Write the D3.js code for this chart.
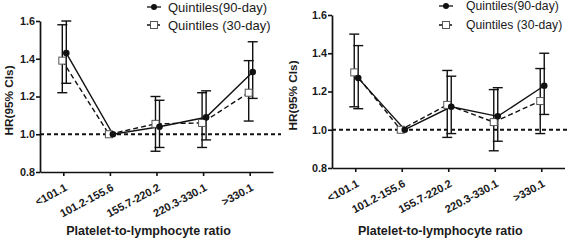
<!DOCTYPE html>
<html>
<head>
<meta charset="utf-8">
<script src="https://cdn.jsdelivr.net/npm/d3@7"></script>
<style>
  body { margin: 0; background: #fff; }
  text { font-family: "Liberation Sans", Arial, sans-serif; fill: #1a1a1a; }
</style>
</head>
<body>
<svg id="chart" width="567" height="241"></svg>
<script>
// categories and ticks
var categories = ["<101.1", "101.2-155.6", "155.7-220.2", "220.3-330.1", ">330.1"];
var yTicks = [0.8, 1.0, 1.2, 1.4, 1.6];
var seriesNames = ["Quintiles(90-day)", "Quintiles (30-day)"];

// left panel
var hr90Left = [1.43, 1.0, 1.04, 1.09, 1.33];
var lo90Left = [1.27, null, 0.93, 0.97, 1.19];
var hi90Left = [1.6, null, 1.18, 1.23, 1.49];
var hr30Left = [1.39, 1.0, 1.055, 1.06, 1.22];
var lo30Left = [1.22, null, 0.91, 0.93, 1.07];
var hi30Left = [1.58, null, 1.2, 1.22, 1.39];

// right panel
var hr90Right = [1.27, 1.0, 1.12, 1.07, 1.23];
var lo90Right = [1.11, null, 0.98, 0.94, 1.08];
var hi90Right = [1.44, null, 1.28, 1.22, 1.4];
var hr30Right = [1.3, 1.0, 1.13, 1.04, 1.15];
var lo30Right = [1.12, null, 0.96, 0.89, 0.98];
var hi30Right = [1.5, null, 1.31, 1.21, 1.32];

var svg = d3.select("#chart");
var font = "'Liberation Sans', Arial, sans-serif";

function panel(p) {
  var x = d3.scalePoint().domain(categories).range([p.left, p.right]).padding(0.5);
  var y = d3.scaleLinear().domain([0.8, 1.6]).range([p.bottom, p.top]);

  var g = svg.append("g");

  // reference line at HR = 1
  g.append("line")
    .attr("x1", p.left).attr("x2", p.refEnd)
    .attr("y1", y(1)).attr("y2", y(1))
    .attr("stroke", "#111").attr("stroke-width", 2)
    .attr("stroke-dasharray", "4,3");

  // axes
  var yAxis = g.append("g")
    .attr("transform", `translate(${p.left},0)`)
    .call(d3.axisLeft(y).tickValues(yTicks).tickFormat(d3.format(".1f")).tickSize(4).tickSizeOuter(0));
  var xAxis = g.append("g")
    .attr("transform", `translate(0,${p.bottom})`)
    .call(d3.axisBottom(x).tickSize(4).tickSizeOuter(0));

  [yAxis, xAxis].forEach(function (a) {
    a.select(".domain").attr("stroke", "#111").attr("stroke-width", 1.7);
    a.selectAll(".tick line").attr("stroke", "#111").attr("stroke-width", 1.6);
  });
  yAxis.selectAll(".tick text")
    .attr("x", -5)
    .style("font-size", "10.8px").style("font-weight", "bold")
    .style("font-family", font).attr("fill", "#1a1a1a");
  xAxis.selectAll(".tick text")
    .attr("text-anchor", "end")
    .attr("dy", null).attr("y", null)
    .attr("transform", "translate(4,18) rotate(-28)")
    .style("font-size", "11px").style("font-weight", "bold")
    .style("font-family", font).attr("fill", "#1a1a1a");

  // axis titles
  g.append("text")
    .attr("x", (p.left + p.right) / 2 - 8).attr("y", 235)
    .attr("text-anchor", "middle")
    .style("font-size", "12.5px").style("font-weight", "bold")
    .text("Platelet-to-lymphocyte ratio");
  g.append("text")
    .attr("transform", `translate(${p.titleX},${(p.top + p.bottom) / 2 + 4}) rotate(-90)`)
    .attr("text-anchor", "middle")
    .style("font-size", "11.8px").style("font-weight", "bold")
    .text("HR(95% CIs)");

  var series = [
    { hr: p.hr30, lo: p.lo30, hi: p.hi30, dx: -1, dash: "5,3", square: true },
    { hr: p.hr90, lo: p.lo90, hi: p.hi90, dx: 3, dash: null, square: false }
  ];

  series.forEach(function (s) {
    var pts = categories.map((c, i) => ({ c: c, hr: s.hr[i], lo: s.lo[i], hi: s.hi[i] }));
    var px = (d) => x(d.c) + s.dx;

    // error bars
    var eb = g.append("g").selectAll("g")
      .data(pts.filter((d) => d.lo != null))
      .join("g")
      .attr("stroke", "#111").attr("stroke-width", 1.4);
    eb.append("line")
      .attr("x1", px).attr("x2", px)
      .attr("y1", (d) => y(d.lo)).attr("y2", (d) => y(d.hi));
    eb.append("line")
      .attr("x1", (d) => px(d) - 5).attr("x2", (d) => px(d) + 5)
      .attr("y1", (d) => y(d.hi)).attr("y2", (d) => y(d.hi));
    eb.append("line")
      .attr("x1", (d) => px(d) - 5).attr("x2", (d) => px(d) + 5)
      .attr("y1", (d) => y(d.lo)).attr("y2", (d) => y(d.lo));

    // connecting line
    g.append("path")
      .datum(pts)
      .attr("fill", "none")
      .attr("stroke", "#111").attr("stroke-width", 1.4)
      .attr("stroke-dasharray", s.dash)
      .attr("d", d3.line().x(px).y((d) => y(d.hr)));
  });

  series.forEach(function (s) {
    var pts = categories.map((c, i) => ({ c: c, hr: s.hr[i] }));
    if (s.square) {
      g.append("g").selectAll("rect")
        .data(pts)
        .join("rect")
        .attr("x", (d) => x(d.c) + s.dx - 3.5).attr("y", (d) => y(d.hr) - 3.5)
        .attr("width", 7).attr("height", 7)
        .attr("fill", "#fff").attr("stroke", "#555").attr("stroke-width", 1);
    } else {
      g.append("g").selectAll("circle")
        .data(pts)
        .join("circle")
        .attr("cx", (d) => x(d.c) + s.dx).attr("cy", (d) => y(d.hr))
        .attr("r", 3.3).attr("fill", "#111");
    }
  });

  // legend
  var lg = g.append("g").attr("transform", `translate(${p.legX},0)`);
  seriesNames.forEach(function (name, i) {
    var ly = i === 0 ? p.legY0 : p.legY1;
    lg.append("line")
      .attr("x1", 0).attr("x2", 14).attr("y1", ly).attr("y2", ly)
      .attr("stroke", "#111").attr("stroke-width", 1.3)
      .attr("stroke-dasharray", i === 0 ? null : "3,2");
    if (i === 0) {
      lg.append("circle").attr("cx", 7).attr("cy", ly).attr("r", 3).attr("fill", "#111");
    } else {
      lg.append("rect").attr("x", 3.5).attr("y", ly - 3.5).attr("width", 7).attr("height", 7)
        .attr("fill", "#fff").attr("stroke", "#555");
    }
    lg.append("text")
      .attr("x", p.legText).attr("y", ly)
      .attr("dy", "0.35em")
      .style("font-size", p.legFont + "px")
      .text(name);
  });
}

panel({
  left: 40, right: 273, top: 21, bottom: 172, refEnd: 281, titleX: 13,
  legX: 147, legText: 21, legY0: 7, legY1: 25, legFont: 13,
  hr90: hr90Left, lo90: lo90Left, hi90: hi90Left,
  hr30: hr30Left, lo30: lo30Left, hi30: hi30Left
});

panel({
  left: 332, right: 564.5, top: 15, bottom: 168, refEnd: 567, titleX: 297,
  legX: 439, legText: 27, legY0: 6, legY1: 25, legFont: 12.2,
  hr90: hr90Right, lo90: lo90Right, hi90: hi90Right,
  hr30: hr30Right, lo30: lo30Right, hi30: hi30Right
});
</script>
</body>
</html>
